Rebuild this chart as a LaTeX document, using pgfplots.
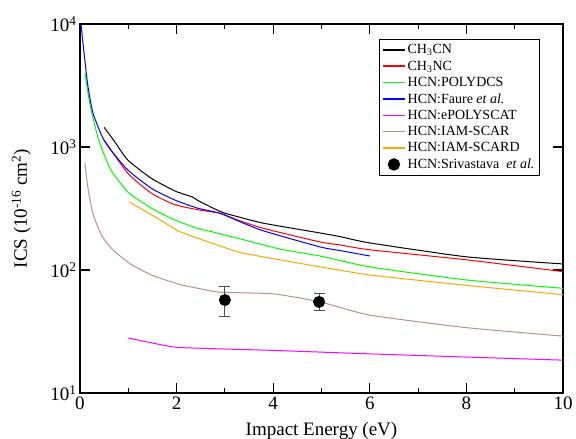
\documentclass[border=0pt]{standalone}
\usepackage{pgfplots}
\pgfplotsset{compat=1.18}
\usepackage{fontspec}
\setmainfont{Liberation Serif}
\definecolor{scarbrown}{RGB}{188,143,143}
\definecolor{scardorange}{RGB}{255,165,0}
\definecolor{polygreen}{RGB}{0,255,0}
\definecolor{polymagenta}{RGB}{255,0,255}
\begin{document}
\begin{tikzpicture}
\begin{axis}[
    scale only axis,
    width=483pt, height=369pt,
    xmin=0, xmax=10,
    ymin=10, ymax=10000,
    ymode=log,
    xtick={0,2,4,6,8,10},
    minor xtick={1,3,5,7,9},
    ytick={10,100,1000,10000},
    yticklabels={10\textsuperscript{1},10\textsuperscript{2},10\textsuperscript{3},10\textsuperscript{4}},
    yminorticks=false,
    tick align=inside,
    major tick length=10pt,
    minor tick length=5pt,
    axis line style={line width=1.5pt},
    every tick/.style={line width=1.2pt, black},
    tick label style={font=\fontsize{19}{22}\selectfont},
    /pgf/number format/assume math mode=true,
    label style={font=\fontsize{19}{22}\selectfont},
    xlabel={Impact Energy (eV)},
    ylabel={ICS (10\textsuperscript{-16} cm\textsuperscript{2})},
    xlabel style={at={(axis description cs:0.5,0)}, anchor=base, yshift=-43pt},
    ylabel style={at={(axis description cs:-0.11,0.5)}, anchor=base},
    legend cell align=left,
    legend style={
        at={(0.952,0.959)}, anchor=north east,
        font=\fontsize{14}{16}\selectfont,
        draw=black, line width=0.8pt,
        inner xsep=3pt, inner ysep=3pt,
        row sep=1.5pt,
    },
    legend image code/.code={\draw[mark repeat=2, mark phase=2, #1, line width=1.4pt]
        plot coordinates {(0pt,0pt) (11pt,0pt) (22pt,0pt)};},
    every axis plot/.append style={line width=1pt},
]
% CH3CN
\addplot[color=black, smooth, tension=0.35] coordinates {
    (0.50,1445) (0.7,1130) (0.99,783) (1.48,555) (1.96,440) (2.07,424) (2.2,407)
    (2.33,392) (2.45,366) (2.72,323) (2.97,292) (3.27,271) (3.8,240)
    (4.97,200) (5.38,187) (6,166) (8,128) (10,112)
};
\addlegendentry{CH\textsubscript{3}CN}
% CH3NC
\addplot[color=red, smooth, tension=0.35] coordinates {
    (0.50,1141) (0.99,611) (1.48,421) (1.96,340) (2.48,307) (2.9,289)
    (3.3,252) (3.8,218) (4.97,169) (5.38,160) (6,146) (8,121) (10,97)
};
\addlegendentry{CH\textsubscript{3}NC}
% HCN:POLYDCS
\addplot[color=polygreen, smooth, tension=0.35] coordinates {
    (0.10,3975) (0.166,2735) (0.23,2000) (0.37,1200) (0.5,870) (0.65,640) (0.99,430)
    (1.48,318) (1.96,255) (2.44,218) (2.72,205) (3.27,181) (4.14,148) (4.97,130)
    (6,106) (8,83) (10,71)
};
\addlegendentry{HCN:POLYDCS}
% HCN:Faure et al.
\addplot[color=blue, smooth, tension=0.35] coordinates {
    (0.02,10000) (0.1,5090) (0.166,3090) (0.27,1880) (0.46,1213) (0.61,975)
    (0.99,650) (1.48,461) (1.96,371) (2.44,318) (2.9,289) (3.3,248)
    (3.8,208) (4.97,154) (5.38,144) (6,130)
};
\addlegendentry{HCN:Faure \textit{et al.}}
% HCN:ePOLYSCAT
\addplot[color=polymagenta, smooth, tension=0.2] coordinates {
    (1,28) (2,23.5) (4,22.2) (6,20.8) (8,19.6) (10,18.5)
};
\addlegendentry{HCN:ePOLYSCAT}
% HCN:IAM-SCAR
\addplot[color=scarbrown, smooth, tension=0.35] coordinates {
    (0.1,745) (0.17,450) (0.27,285) (0.45,190) (0.65,150) (0.86,127) (1.06,111)
    (1.48,91) (2.03,77) (2.44,71) (2.9,66) (4.0,64) (4.97,55) (6,43) (8,34) (10,29)
};
\addlegendentry{HCN:IAM-SCAR}
% HCN:IAM-SCARD
\addplot[color=scardorange, smooth, tension=0.2] coordinates {
    (1.01,359) (1.55,271) (2.03,208) (2.44,181) (2.72,166) (3.3,139) (4.14,121)
    (4.97,106) (6,91) (8,75) (10,63)
};
\addlegendentry{HCN:IAM-SCARD}
% HCN:Srivastava et al.
\addplot[color=black, only marks, mark=*, mark size=5.5pt,
    error bars/.cd, y dir=both, y explicit,
    error bar style={line width=1pt, black!70},
    error mark options={rotate=90, line width=1pt, mark size=5.5pt, black!70}]
    coordinates {
    (3,57) -= (3,15.5) += (3,16)
    (4.95,55) -= (4.95,8.5) += (4.95,9)
};
\addlegendentry{HCN:Srivastava\ \ \textit{et al.}}
\end{axis}
\pgfresetboundingbox
\path[use as bounding box] ([shift={(-80pt,-46pt)}]current axis.south west) rectangle ([shift={(13pt,24pt)}]current axis.north east);
\end{tikzpicture}
\end{document}
